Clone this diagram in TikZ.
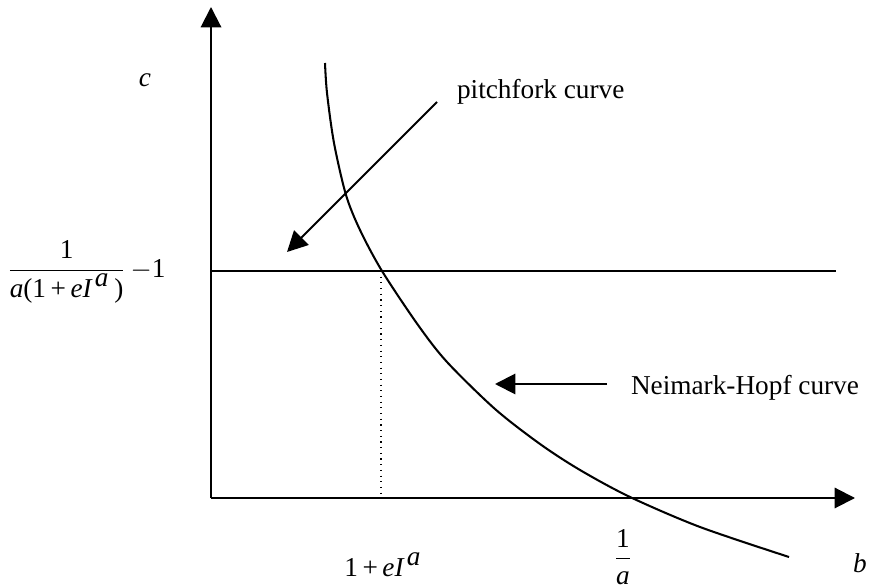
\documentclass[tikz,border=0pt]{standalone}
\usepackage{amsmath}
\usepackage{fontspec}
\setmainfont{Liberation Serif}
\usetikzlibrary{arrows.meta}
\usetikzlibrary{positioning}

\newcommand{\itl}[1]{\mbox{\itshape #1}}

\begin{document}
\begin{tikzpicture}[x=0.44pt,y=-0.44pt,line width=0.9pt,
    tip/.style={-{Triangle[length=9pt,width=9pt]}},
    lbl/.style={inner sep=0pt,font=\fontsize{12}{14}\selectfont}]
    \useasboundingbox (0,0) rectangle (869,588);

    % axes
    \coordinate (O) at (211,498);
    \coordinate (ytop) at (211,7);
    \coordinate (xend) at (855,498);
    \draw[tip] (O) -- (ytop);
    \draw[tip] (O) -- (xend);

    % pitchfork line and foot
    \coordinate (pfl) at (211,271);
    \coordinate (pfr) at (836,271);
    \coordinate (meet) at (381,271);
    \coordinate (foot) at (381,498);
    \draw (pfl) -- (pfr);
    \draw[dotted,line width=0.5pt] (meet) -- (foot);

    % Neimark-Hopf curve
    \draw plot[smooth,tension=0.5] coordinates
        {(325,63) (327,93) (334,143) (346,195) (360,230) (382,271)
         (418,325) (447,362) (495,409) (540,444) (580,470)
         (630,497) (700,527) (789,557)};

    % labels
    \node[lbl] (clab) at (145,80) {\itshape c};
    \node[lbl] (blab) at (860,563) {\itshape b};
    \node[lbl,anchor=west] (cval) at (6,272)
        {$\dfrac{\mbox{1}}{\itl{a}\mbox{(1\,+\,}\itl{eI}^{\,\itl{a}}\,\mbox{)}}\,{-}\mbox{1}$};
    \node[lbl] (bval) at (383,565) {$\mbox{1\,+\,}\itl{eI}^{\,\itl{a}}$};
    \node[lbl] (inva) at (623,557) {$\dfrac{\mbox{1}}{\itl{a}}$};

    \node[lbl,anchor=west] (pf) at (456,92) {pitchfork curve};
    \node[lbl,anchor=west] (nh) at (630,388) {Neimark-Hopf curve};

    % pointers
    \coordinate (pfs) at (437,102);
    \coordinate (pfe) at (287,252);
    \draw[tip] (pfs) -- (pfe);
    \coordinate (nhs) at (607,384);
    \coordinate (nhe) at (495,384);
    \draw[tip] (nhs) -- (nhe);
\end{tikzpicture}
\end{document}
